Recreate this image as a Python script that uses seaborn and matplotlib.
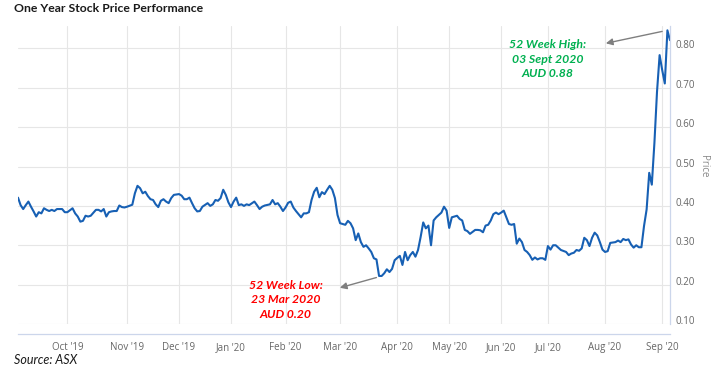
"""One year stock price performance: daily closes on an ordinal trading-day axis."""
import matplotlib

matplotlib.use("Agg")
import matplotlib.pyplot as plt
import pandas as pd
import seaborn as sns
from matplotlib.transforms import ScaledTranslation

# trading session index (ordinal axis) and close price
session = [
    0, 1, 2, 3, 4, 5, 6, 7, 8, 9, 10, 11, 12, 13, 14, 15, 17, 18, 19, 21,
    22, 23, 24, 25, 26, 27, 28, 30, 31, 32, 33, 34, 35, 36, 37, 38, 39, 40, 41, 42,
    44, 45, 46, 47, 48, 49, 50, 51, 52, 53, 54, 55, 56, 57, 58, 59, 60, 62, 63, 64,
    65, 66, 67, 68, 69, 70, 71, 73, 74, 75, 76, 77, 78, 79, 80, 81, 82, 83, 84, 85,
    86, 87, 88, 89, 91, 92, 93, 94, 95, 97, 98, 99, 100, 101, 102, 103, 104, 105, 106, 107,
    109, 110, 111, 112, 113, 114, 115, 116, 117, 118, 119, 120, 121, 122, 123, 124, 125, 126, 127, 128,
    129, 130, 131, 132, 133, 134, 135, 136, 137, 138, 139, 140, 141, 142, 143, 144, 145, 146, 147, 148,
    149, 150, 151, 152, 153, 154, 155, 156, 157, 158, 159, 160, 161, 162, 163, 164, 165, 166, 167, 168,
    169, 170, 171, 172, 173, 174, 176, 177, 178, 179, 180, 181, 182, 183, 184, 185, 186, 187, 189, 190,
    191, 192, 193, 194, 195, 196, 197, 198, 199, 200, 201, 202, 203, 204, 205, 206, 207, 208, 209, 211,
    212, 213, 214, 215, 216, 217, 218, 219, 220, 221, 222, 223, 224, 225, 226, 227, 228, 230, 231, 232,
    233, 234, 235, 236, 237, 238, 239, 240, 241, 242, 243, 244, 245, 246, 247, 248, 249, 250, 251,
]
price = [
    0.421, 0.402, 0.392, 0.402, 0.411, 0.398, 0.386, 0.373, 0.384, 0.381, 0.394, 0.390, 0.387, 0.390, 0.387, 0.392, 0.392, 0.384, 0.384, 0.394,
    0.381, 0.373, 0.360, 0.362, 0.375, 0.373, 0.375, 0.390, 0.390, 0.386, 0.392, 0.373, 0.384, 0.386, 0.387, 0.387, 0.401, 0.397, 0.396, 0.398,
    0.403, 0.432, 0.451, 0.445, 0.432, 0.436, 0.425, 0.417, 0.415, 0.404, 0.397, 0.413, 0.417, 0.411, 0.407, 0.420, 0.428, 0.430, 0.426, 0.417,
    0.417, 0.421, 0.407, 0.394, 0.386, 0.387, 0.398, 0.407, 0.400, 0.404, 0.415, 0.413, 0.420, 0.441, 0.428, 0.409, 0.397, 0.411, 0.421, 0.402,
    0.404, 0.400, 0.404, 0.402, 0.411, 0.402, 0.392, 0.398, 0.401, 0.404, 0.415, 0.404, 0.407, 0.398, 0.387, 0.396, 0.408, 0.411, 0.396, 0.387,
    0.371, 0.381, 0.381, 0.384, 0.415, 0.436, 0.446, 0.422, 0.435, 0.430, 0.441, 0.451, 0.441, 0.420, 0.377, 0.356, 0.354, 0.352, 0.362, 0.356,
    0.343, 0.313, 0.330, 0.308, 0.296, 0.300, 0.292, 0.283, 0.267, 0.264, 0.222, 0.222, 0.229, 0.239, 0.232, 0.240, 0.262, 0.268, 0.273, 0.250,
    0.283, 0.262, 0.275, 0.283, 0.271, 0.288, 0.321, 0.358, 0.343, 0.350, 0.300, 0.363, 0.371, 0.377, 0.383, 0.398, 0.388, 0.344, 0.371, 0.373,
    0.375, 0.367, 0.363, 0.339, 0.336, 0.329, 0.339, 0.339, 0.338, 0.333, 0.350, 0.352, 0.363, 0.379, 0.383, 0.379, 0.383, 0.388, 0.354, 0.352,
    0.354, 0.304, 0.317, 0.308, 0.288, 0.283, 0.275, 0.263, 0.269, 0.264, 0.267, 0.267, 0.263, 0.298, 0.289, 0.300, 0.300, 0.294, 0.288, 0.283,
    0.275, 0.279, 0.281, 0.288, 0.286, 0.292, 0.319, 0.313, 0.298, 0.319, 0.332, 0.325, 0.308, 0.289, 0.283, 0.285, 0.306, 0.308, 0.312, 0.308,
    0.316, 0.313, 0.315, 0.302, 0.294, 0.300, 0.295, 0.295, 0.349, 0.391, 0.484, 0.454, 0.560, 0.690, 0.783, 0.745, 0.711, 0.846, 0.821,
]

# first trading session of each month and its label
month_session = [19, 42, 62, 82, 103, 124, 146, 166, 186, 204, 226, 248]
month_label = ["Oct '19", "Nov '19", "Dec '19", "Jan '20", "Feb '20", "Mar '20",
               "Apr '20", "May '20", "Jun '20", "Jul '20", "Aug '20", "Sep '20"]
price_ticks = [0.10, 0.20, 0.30, 0.40, 0.50, 0.60, 0.70, 0.80]

high_text = "52 Week High:\n03 Sept 2020\nAUD 0.88"
low_text = "52 Week Low:\n23 Mar 2020\nAUD 0.20"

LINE = "#1760b4"
GRID = "#e6e6e6"
AXIS = "#ccd6eb"
LABEL = "#666666"

sns.set_style("white")
plt.rcParams["font.family"] = ["Lato", "DejaVu Sans"]

df = pd.DataFrame({"session": session, "price": price})

W, H = 715, 369
fig = plt.figure(figsize=(W / 100, H / 100), dpi=100)
ax = fig.add_axes([18 / W, 1 - 324 / H, (670 - 18) / W, (324 - 26) / H])

sns.lineplot(data=df, x="session", y="price", ax=ax, color=LINE, linewidth=1.5)

ax.set_xlim(0, 251)
ax.set_ylim(0.10, 0.857)
ax.set_xlabel("")
ax.set_ylabel("")

ax.set_xticks(month_session)
ax.set_xticklabels(month_label)
ax.set_yticks(price_ticks)
ax.set_yticklabels([f"{v:.2f}" for v in price_ticks])
ax.yaxis.tick_right()

ax.grid(True, color=GRID, linewidth=0.8)
ax.set_axisbelow(True)
for side in ("left", "top"):
    ax.spines[side].set_visible(False)
ax.spines["right"].set_color(AXIS)
ax.spines["right"].set_linewidth(0.9)
ax.spines["bottom"].set_color(AXIS)
ax.spines["bottom"].set_linewidth(0.9)
# the date axis sits 10 px below the plot area
ax.spines["bottom"].set_position(("outward", 7.2))

ax.tick_params(axis="x", direction="out", length=4, width=0.8, color=AXIS,
               labelsize=7, labelcolor=LABEL, pad=1.5)
ax.tick_params(axis="y", length=0, labelsize=7, labelcolor=LABEL, pad=4)
for lbl in ax.get_yticklabels():
    lbl.set_fontfamily(["Open Sans", "DejaVu Sans"])
    lbl.set_transform(lbl.get_transform() + ScaledTranslation(0, 4 / 100, fig.dpi_scale_trans))
for lbl in ax.get_xticklabels():
    lbl.set_fontfamily(["Open Sans", "DejaVu Sans"])

fig.text(703 / W, 1 - 166 / H, "Price", rotation=270, ha="center", va="center",
         fontsize=7, color="#888888", family=["Open Sans", "DejaVu Sans"])

# 52 week high / low call-outs
peak = df.loc[df["price"].idxmax()]
low = df.loc[df["price"].idxmin()]
arrow = dict(arrowstyle="-|>", color="#7f7f7f", lw=1.0, mutation_scale=10,
             shrinkA=1, shrinkB=0)
ax.annotate("", xy=(226.3, 0.813), xytext=(peak["session"] - 1.5, peak["price"] - 0.002),
            arrowprops=arrow)
ax.annotate("", xy=(123.9, 0.192), xytext=(low["session"] - 0.5, low["price"] - 0.003),
            arrowprops=arrow)
ax.text(203.8, 0.773, high_text, ha="center", va="center", color="#00b050",
        fontsize=8.8, fontweight="bold", fontstyle="italic", linespacing=1.35)
ax.text(103.0, 0.161, low_text, ha="center", va="center", color="#ff0000",
        fontsize=8.8, fontweight="bold", fontstyle="italic", linespacing=1.35)

fig.text(14 / W, 1 - 9 / H, "One Year Stock Price Performance", ha="left", va="center",
         fontsize=8.8, fontweight="bold", color="#1a1a1a")
fig.text(14 / W, 1 - 360 / H, "Source: ASX", ha="left", va="center",
         fontsize=9, fontstyle="italic", color="#1a1a1a")

fig.savefig("out.png", dpi=100)
plt.close(fig)
